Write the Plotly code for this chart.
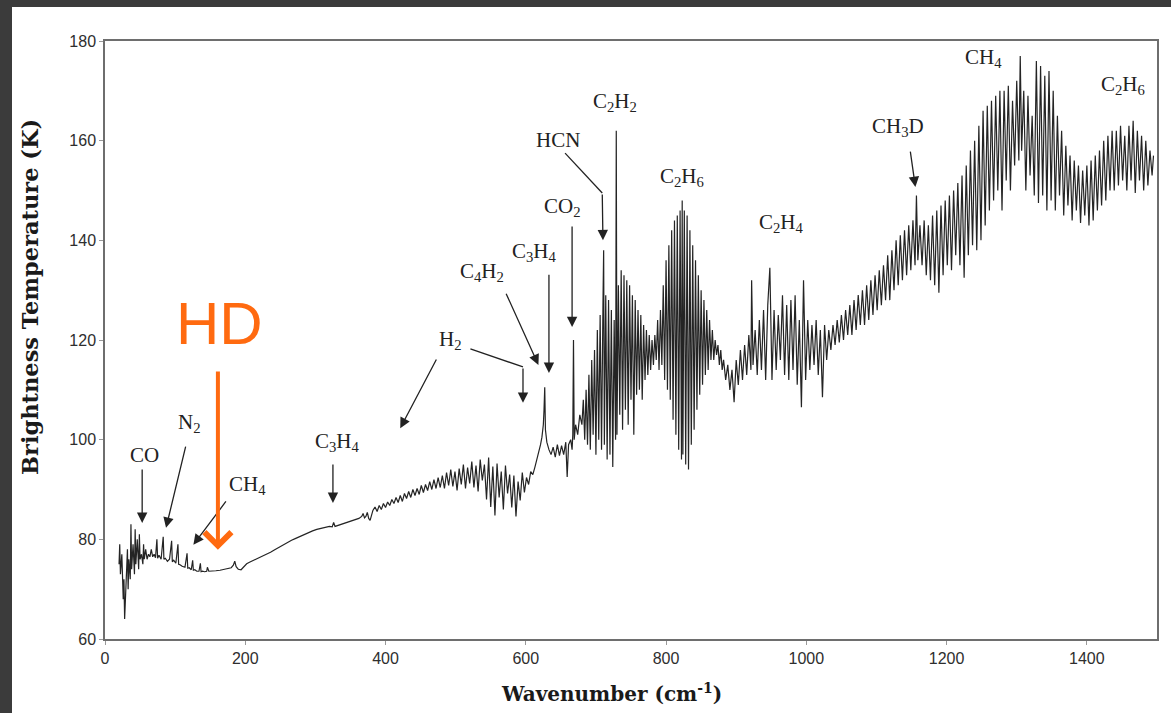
import plotly.graph_objects as go

# ---------------- spectrum, segment by segment ----------------
wn_a = [20, 21, 22, 24, 26, 27, 28, 30, 32, 33, 34, 36, 37, 38, 40, 42, 43, 44, 46, 48, 49, 50, 52, 54, 55, 56, 58, 60]
tb_a = [75, 79, 73, 77, 68, 72, 64, 71, 78, 70, 76, 72, 83, 74, 79, 73, 82, 75, 80, 74, 81, 76, 77, 75, 79, 76, 78, 76]

wn_b = [62, 64, 66, 68, 70, 72, 74, 75, 77, 80, 83, 84, 86, 89, 92, 95, 96, 98, 101, 104, 105, 107, 110, 114, 117, 118,
        120, 123, 125, 126, 128, 131, 134, 136, 137, 139, 142, 145, 146, 148]
tb_b = [77, 76.5, 78, 76.5, 77, 76.3, 80, 76.2, 76.8, 76, 80.5, 76, 76.2, 75.6, 76, 79.7, 75.5, 75.8, 75.2, 79, 75, 74.9,
        74.6, 74.4, 77.2, 74.2, 74.3, 73.9, 75.8, 73.8, 73.9, 73.6, 73.6, 75.2, 73.5, 73.6, 73.5, 73.6, 74.4, 73.6]

wn_c = [152, 158, 164, 170, 176, 180, 183, 185, 187, 190, 194, 198, 202, 206, 212, 218, 224, 230, 236, 242, 248, 254,
        260, 266, 272, 278, 284, 290, 296, 302, 308, 314, 320, 324, 326, 328, 332, 338, 344, 350, 356, 362, 366, 368,
        370, 372, 374, 376, 378]
tb_c = [73.6, 73.7, 73.8, 74.0, 74.2, 74.3, 74.8, 75.6, 74.5, 74.0, 73.9, 74.6, 75.1, 75.4, 75.8, 76.1, 76.6, 77.0,
        77.4, 77.9, 78.4, 78.8, 79.3, 79.8, 80.2, 80.6, 81.0, 81.4, 81.7, 82.0, 82.2, 82.4, 82.6, 82.5, 83.4, 82.6,
        82.8, 83.1, 83.3, 83.6, 83.9, 84.2, 84.6, 85.2, 84.3, 84.6, 85.4, 84.2, 83.8]

wn_d = [382, 385, 388, 391, 394, 397, 400, 403, 406, 409, 412, 415, 418, 421, 424, 427, 430, 433, 436, 439, 442, 445,
        448, 451, 454, 457, 460, 463, 466, 469, 472, 475, 478, 481, 484, 487, 490, 493, 496, 499, 502, 505, 508, 511,
        514, 517, 520, 523, 526, 529, 532, 535, 538, 541, 544, 547, 550, 553, 556, 559, 562, 565, 568, 571, 574, 577,
        580, 583, 586, 589, 592, 595, 598, 601, 604, 607, 610]
tb_d = [85.8, 86.5, 85.6, 86.8, 86.0, 87.2, 86.4, 87.5, 86.8, 88.0, 87.2, 88.4, 87.4, 88.8, 87.6, 89.2, 88.2, 89.6,
        88.4, 90.0, 88.8, 90.2, 89.0, 90.8, 89.4, 91.0, 89.8, 91.6, 90.0, 92.0, 90.2, 92.4, 90.4, 92.8, 90.2, 93.4,
        90.8, 94.0, 90.6, 93.6, 89.8, 94.2, 91.0, 95.0, 90.2, 94.4, 91.2, 95.6, 90.4, 94.8, 89.6, 96.0, 91.8, 95.0,
        88.0, 96.4, 86.5, 94.6, 84.8, 95.2, 88.4, 93.6, 86.0, 94.8, 89.2, 93.0, 86.4, 92.8, 84.6, 91.6, 87.8, 93.4,
        89.4, 92.4, 91.0, 93.6, 93.0]

wn_e = [613, 616, 619, 621, 623, 625, 626, 627, 628, 630, 633, 636, 639, 642, 645, 648, 651, 654, 657, 659, 661, 664,
        666, 667, 668, 669, 671, 674, 677, 680]
tb_e = [94.5, 96, 97.5, 99, 100.5, 103, 106, 110.5, 102, 99.5, 98, 97, 98.5, 96.5, 99, 96.8, 98.8, 97, 99.5, 92.5, 99,
        100, 98, 101, 120, 100, 103, 101, 105, 103]

wn_f = [682, 684, 686, 688, 690, 692, 694, 696, 698, 700, 702, 704, 706, 708, 710, 711, 712, 714, 716, 718, 720, 722,
        724, 726, 728, 729, 730, 732, 734, 736, 738, 740, 742, 744, 746, 748, 750, 752, 754, 756, 758, 760, 762, 764,
        766, 768, 770, 772, 774, 776, 778, 780, 782, 784, 786, 788, 790]
tb_f = [108, 100, 110, 99, 113, 98, 116, 101, 118, 97, 122, 100, 125, 98, 127, 138, 99, 129, 96, 128, 97, 126, 94.5,
        124, 100, 162, 101, 131, 105, 134, 102, 133, 106, 132, 103, 131, 108, 129, 101, 128, 109, 126, 110, 125, 108,
        123, 112, 122, 113, 121, 114, 120, 115, 121, 116, 124, 114]

wn_g = [792, 794, 796, 798, 800, 802, 804, 806, 808, 810, 812, 814, 816, 818, 820, 822, 823, 824, 826, 828, 830, 832,
        834, 836, 838, 840, 842, 844, 846, 848, 850, 852, 854, 856, 858, 860, 862, 864, 866, 868, 870, 872, 874, 876,
        878, 880]
tb_g = [126, 115, 131, 112, 136, 110, 139, 108, 142, 104, 144, 101, 145, 98, 146, 96, 148, 97, 146, 95, 145, 94, 142,
        99, 139, 102, 136, 106, 133, 109, 130, 111, 128, 113, 126, 114, 124, 116, 122, 116, 120, 117, 119, 115, 118,
        114]

wn_h = [882, 885, 888, 891, 894, 897, 900, 903, 906, 909, 912, 915, 918, 921, 922, 924, 927, 930, 933, 936, 939, 942,
        945, 948, 951, 954, 957, 960, 963, 966, 969, 972, 975, 978, 981, 984, 987, 990, 993, 996, 999, 1002, 1005,
        1008, 1011, 1014, 1017, 1020, 1023, 1026, 1029]
tb_h = [116, 112, 115, 110, 114, 107.5, 116, 111, 118, 112, 119, 113, 121, 114, 132, 115, 122, 113, 124, 114, 126, 112,
        127, 134.5, 112, 126, 114, 125, 116, 129, 113, 127, 112, 128, 114, 129, 111, 124, 106.5, 132, 112, 124, 114,
        123, 115, 124, 113, 122, 108.5, 123, 116]

wn_i = [1032, 1035, 1038, 1041, 1044, 1047, 1050, 1053, 1056, 1059, 1062, 1065, 1068, 1071, 1074, 1077, 1080, 1083,
        1086, 1089, 1092, 1095, 1098, 1101, 1104, 1107, 1110, 1113, 1116, 1119, 1122, 1125, 1128, 1131, 1134, 1137,
        1140, 1143, 1146, 1149, 1152, 1155, 1157, 1159, 1162, 1165, 1168, 1171, 1174, 1177, 1180, 1183, 1186, 1189,
        1192, 1195, 1198]
tb_i = [122, 118, 123, 119, 124, 119.5, 125, 120, 126, 121, 127, 121, 128, 122, 129, 123, 130, 123, 131, 124, 132, 125,
        133, 126, 134, 127, 135, 128, 137, 128, 138, 130, 140, 131, 141, 132, 142, 133, 143, 134, 144, 135, 149, 136,
        143, 135, 144, 133, 143, 132, 145, 131, 146, 129.5, 147, 133, 148]

wn_j = [1201, 1204, 1207, 1210, 1213, 1216, 1219, 1222, 1225, 1228, 1231, 1234, 1237, 1240, 1243, 1246, 1249, 1252,
        1255, 1258, 1261, 1264, 1267, 1270, 1273, 1276, 1279, 1282, 1285, 1288, 1291, 1294, 1297, 1300, 1303, 1305,
        1307, 1310, 1313, 1316, 1319, 1322, 1325, 1328, 1331, 1334, 1337, 1340, 1343, 1346, 1349, 1352, 1355, 1358,
        1361, 1364, 1367, 1370, 1373, 1376, 1379, 1382, 1385, 1388, 1391, 1394, 1397, 1400, 1403, 1406, 1409, 1412,
        1415, 1418, 1421, 1424, 1427, 1430, 1433, 1436, 1439, 1442, 1445, 1448, 1451, 1454, 1457, 1460, 1463, 1466,
        1469, 1472, 1475, 1478, 1481, 1484, 1487, 1490, 1493, 1495]
tb_j = [135, 149, 134, 150, 137, 151.5, 135, 153, 132.5, 155, 137, 158, 139, 160, 138, 163, 140, 166, 143, 167, 146,
        168, 148, 169, 150, 170, 146, 170, 152, 171, 150, 168, 155, 172, 156, 177, 158, 170, 150, 169, 153, 165, 149,
        176, 147.5, 175, 149, 173, 146, 174, 148, 170, 146, 165, 149, 162, 145, 159, 147, 157, 144, 156, 146, 155,
        143.5, 154, 145, 155, 143, 156, 144, 157, 146, 158, 147, 160, 148, 161, 150, 162, 150, 162, 151, 163, 152,
        161, 150, 163, 152, 164, 149.5, 162, 152, 161, 150, 160, 151, 158, 153, 157]

# ---------------- molecule labels ----------------
label_text = ["CO", "N<sub>2</sub>", "CH<sub>4</sub>", "C<sub>3</sub>H<sub>4</sub>", "H<sub>2</sub>",
              "C<sub>4</sub>H<sub>2</sub>", "C<sub>3</sub>H<sub>4</sub>", "CO<sub>2</sub>", "HCN",
              "C<sub>2</sub>H<sub>2</sub>", "C<sub>2</sub>H<sub>6</sub>", "C<sub>2</sub>H<sub>4</sub>",
              "CH<sub>3</sub>D", "CH<sub>4</sub>", "C<sub>2</sub>H<sub>6</sub>"]
label_wn = [57, 121, 203, 331, 492, 537, 613, 652, 646, 727.5, 823, 965, 1131, 1252, 1451]
label_tb = [96.9, 103.3, 90.9, 99.6, 120, 133.6, 137.7, 146.7, 160.1, 167.8, 152.7, 143.5, 162.7, 176.6, 171.2]

# arrows: tip and tail
arrow_tip_wn = [53, 87, 126, 325, 421, 596, 618, 633, 666, 710, 1155.5]
arrow_tip_tb = [83.3, 82.3, 78.9, 87.3, 102.3, 107.4, 115, 113.4, 122.6, 140, 150.7]
arrow_tail_wn = [53, 115.5, 174, 325, 473.6, 596, 571, 633, 666, 709, 1148]
arrow_tail_tb = [94.3, 98.9, 87.9, 95.3, 116.4, 114.6, 129.6, 133.4, 143.1, 149.5, 158.1]
# first legs of the two bent arrows (H2 right arrow, HCN arrow)
bend_start_wn = [521, 656]
bend_start_tb = [118.2, 157.5]
bend_end_wn = [596, 709]
bend_end_tb = [114.6, 149.5]

# HD callout
hd_text_wn, hd_text_tb = 163, 123.4
hd_tip_wn, hd_tip_tb = 161, 77.9
hd_tail_wn, hd_tail_tb = 161, 114

x_ticks = [0, 200, 400, 600, 800, 1000, 1200, 1400]
y_ticks = [60, 80, 100, 120, 140, 160, 180]

wn = wn_a + wn_b + wn_c + wn_d + wn_e + wn_f + wn_g + wn_h + wn_i + wn_j
tb = tb_a + tb_b + tb_c + tb_d + tb_e + tb_f + tb_g + tb_h + tb_i + tb_j

fig = go.Figure()
fig.add_trace(go.Scatter(x=wn, y=tb, mode="lines", line=dict(color="#242424", width=1.2),
                         hoverinfo="skip", showlegend=False))

serif = "Liberation Serif, Times New Roman, serif"
annotations = []
for t, x, y in zip(label_text, label_wn, label_tb):
    annotations.append(dict(x=x, y=y, xref="x", yref="y", text=t, showarrow=False,
                            font=dict(family=serif, size=21, color="#222222"),
                            xanchor="center", yanchor="middle"))
for hx, hy, tx, ty in zip(arrow_tip_wn, arrow_tip_tb, arrow_tail_wn, arrow_tail_tb):
    annotations.append(dict(x=hx, y=hy, ax=tx, ay=ty, xref="x", yref="y", axref="x", ayref="y",
                            text="", showarrow=True, arrowhead=2, arrowsize=1.6, arrowwidth=1.3,
                            arrowcolor="#222222", standoff=0))
annotations.append(dict(x=hd_tip_wn, y=hd_tip_tb, ax=hd_tail_wn, ay=hd_tail_tb, xref="x", yref="y",
                        axref="x", ayref="y", text="", showarrow=True, arrowhead=4, arrowsize=1.3,
                        arrowwidth=4, arrowcolor="#ff6a10", standoff=0))
annotations.append(dict(x=hd_text_wn, y=hd_text_tb, xref="x", yref="y", text="HD", showarrow=False,
                        font=dict(family="Liberation Sans, Arial, sans-serif", size=60, color="#ff6a10"),
                        xanchor="center", yanchor="middle"))
# axis titles (both sit slightly off-centre in the reference)
annotations.append(dict(x=0.481, y=-0.0903, xref="paper", yref="paper", text="Wavenumber (cm<sup>-1</sup>)",
                        showarrow=False, xanchor="center", yanchor="middle",
                        font=dict(family="DejaVu Serif, serif", size=20, color="#1a1a1a", weight="bold")))
annotations.append(dict(x=-0.0713, y=0.572, xref="paper", yref="paper", text="Brightness Temperature (K)",
                        showarrow=False, textangle=-90, xanchor="center", yanchor="middle",
                        font=dict(family="DejaVu Serif, serif", size=22.5, color="#1a1a1a", weight="bold")))

shapes = [dict(type="rect", xref="paper", yref="paper", x0=-0.0884, x1=1.05, y0=-0.2, y1=1.0569,
               fillcolor="white", line=dict(width=0), layer="below")]
for x0, y0, x1, y1 in zip(bend_start_wn, bend_start_tb, bend_end_wn, bend_end_tb):
    shapes.append(dict(type="line", xref="x", yref="y", x0=x0, y0=y0, x1=x1, y1=y1,
                       line=dict(color="#222222", width=1.3)))

axis_common = dict(showgrid=False, zeroline=False, showline=True, linecolor="#6e6e6e", linewidth=1.5,
                   mirror=True, ticks="outside", ticklen=4, tickcolor="#999999",
                   tickfont=dict(family="Liberation Sans, Arial, sans-serif", size=16, color="#2e2e2e"))

fig.update_layout(
    width=1171, height=713,
    margin=dict(l=105, r=14, t=41, b=74, autoexpand=False),
    paper_bgcolor="#3b3b3b", plot_bgcolor="white",
    annotations=annotations, shapes=shapes,
    xaxis=dict(range=[0, 1500], tickvals=x_ticks, **axis_common),
    yaxis=dict(range=[60, 180], tickvals=y_ticks, **axis_common),
)

fig.write_html("out.html", config={"displayModeBar": False},
               post_script="document.body.style.margin='0';document.body.style.background='#3b3b3b';")
